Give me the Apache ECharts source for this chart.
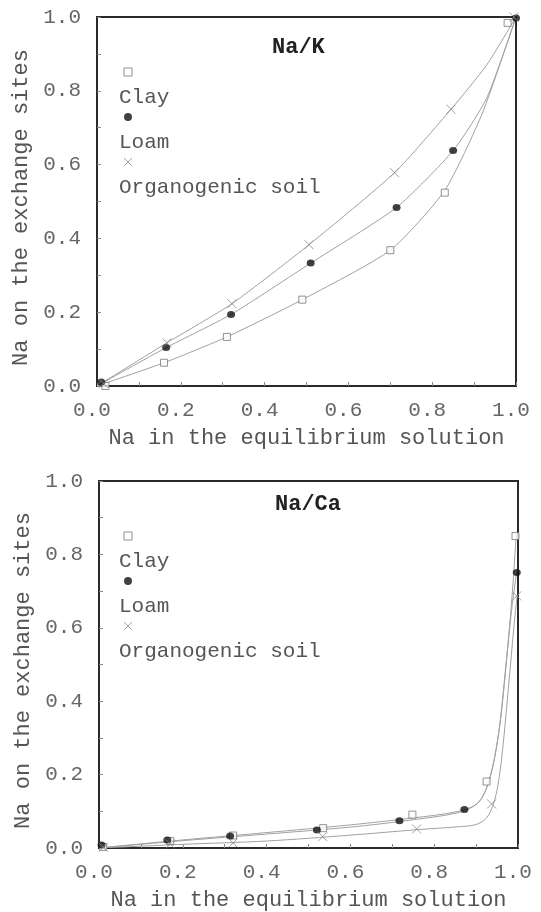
<!DOCTYPE html>
<html>
<head>
<meta charset="utf-8">
<script src="https://cdn.jsdelivr.net/npm/echarts@6/dist/echarts.min.js"></script>
<style>
html,body{margin:0;padding:0;background:#fff;}
#chart{width:541px;height:912px;}
</style>
</head>
<body>
<div id="chart"></div>
<script>
// ---------- tick labels ----------
const tickValues = [0.0, 0.2, 0.4, 0.6, 0.8, 1.0];
const seriesNames = ['Clay', 'Loam', 'Organogenic soil'];
const panelTitles = ['Na/K', 'Na/Ca'];
const xAxisTitle = 'Na in the equilibrium solution';
const yAxisTitle = 'Na on the exchange sites';

// ---------- Na/K : measured points ----------
const kClayX = [0.02, 0.16, 0.31, 0.49, 0.70, 0.83, 0.98];
const kClayY = [0.0, 0.063, 0.133, 0.234, 0.368, 0.524, 0.984];
const kLoamX = [0.01, 0.165, 0.32, 0.51, 0.715, 0.85, 1.0];
const kLoamY = [0.011, 0.104, 0.194, 0.333, 0.484, 0.638, 0.997];
const kOrgX = [0.016, 0.167, 0.322, 0.506, 0.71, 0.845, 0.995];
const kOrgY = [0.007, 0.117, 0.223, 0.383, 0.578, 0.75, 1.0];

// ---------- Na/K : fitted curves ----------
const kClayFitX = [0, 0.16, 0.31, 0.49, 0.70, 0.83, 0.92, 1.0];
const kClayFitY = [0, 0.063, 0.133, 0.234, 0.368, 0.53, 0.74, 1.0];
const kLoamFitX = [0, 0.165, 0.32, 0.51, 0.715, 0.85, 0.93, 1.0];
const kLoamFitY = [0, 0.104, 0.194, 0.333, 0.484, 0.638, 0.78, 1.0];
const kOrgFitX = [0, 0.167, 0.322, 0.506, 0.71, 0.845, 0.93, 1.0];
const kOrgFitY = [0, 0.117, 0.223, 0.383, 0.578, 0.75, 0.87, 1.0];

// ---------- Na/Ca : measured points ----------
const cClayX = [0.01, 0.17, 0.32, 0.535, 0.748, 0.925, 0.994];
const cClayY = [0.003, 0.019, 0.034, 0.054, 0.091, 0.181, 0.85];
const cLoamX = [0.006, 0.163, 0.313, 0.52, 0.717, 0.872, 0.997];
const cLoamY = [0.008, 0.022, 0.033, 0.049, 0.074, 0.105, 0.751];
const cOrgX = [0.01, 0.17, 0.32, 0.534, 0.758, 0.937, 0.997];
const cOrgY = [0.002, 0.011, 0.014, 0.031, 0.052, 0.12, 0.687];

// ---------- Na/Ca : fitted curves ----------
const cClayFitX = [0, 0.2, 0.4, 0.6, 0.75, 0.85, 0.9, 0.92, 0.935, 0.947, 0.959, 0.975, 0.988, 0.996];
const cClayFitY = [0, 0.022, 0.042, 0.063, 0.082, 0.098, 0.118, 0.15, 0.2, 0.265, 0.356, 0.54, 0.72, 0.86];
const cLoamFitX = [0, 0.2, 0.4, 0.6, 0.75, 0.87, 0.91, 0.93, 0.945, 0.958, 0.973, 0.986, 0.998];
const cLoamFitY = [0, 0.02, 0.038, 0.057, 0.077, 0.1, 0.13, 0.18, 0.25, 0.35, 0.52, 0.66, 0.76];
const cOrgFitX = [0, 0.2, 0.4, 0.6, 0.76, 0.86, 0.9, 0.925, 0.94, 0.952, 0.963, 0.978, 0.99, 0.998];
const cOrgFitY = [0, 0.01, 0.019, 0.035, 0.05, 0.058, 0.064, 0.082, 0.115, 0.17, 0.265, 0.447, 0.6, 0.69];

const zip = (xs, ys) => xs.map((x, i) => [x, ys[i]]);

const FONT = 'Liberation Mono';
const TXT = '#555';
const FRAME = '#2a2a2a';
const CURVE = '#a0a0a0';
const CROSS = 'path://M0,0L10,10M0,10L10,0';

const styles = {
  'Clay': { symbol: 'rect', symbolSize: 7, itemStyle: { color: '#fff', borderColor: '#777', borderWidth: 1 } },
  'Loam': { symbol: 'circle', symbolSize: [8, 7], itemStyle: { color: '#111', borderColor: '#111', borderWidth: 0 } },
  'Organogenic soil': { symbol: CROSS, symbolSize: 9, itemStyle: { color: 'none', borderColor: '#888', borderWidth: 1 } }
};

function grids() {
  return [
    { left: 97, top: 17, width: 419, height: 369, show: true, borderColor: FRAME, borderWidth: 2, backgroundColor: 'transparent' },
    { left: 99, top: 481, width: 419, height: 367, show: true, borderColor: FRAME, borderWidth: 2, backgroundColor: 'transparent' }
  ];
}

const labelFmt = v => { const t = tickValues.find(a => Math.abs(a - v) < 1e-6); return t === undefined ? '' : t.toFixed(1); };

function xAxis(i) {
  return {
    type: 'value', gridIndex: i, min: 0, max: 1, interval: 0.2,
    name: xAxisTitle, nameLocation: 'middle', nameGap: 41,
    nameTextStyle: { fontFamily: FONT, fontSize: 22, color: TXT },
    axisLine: { show: true, lineStyle: { color: FRAME, width: 2 } },
    axisTick: { show: true, inside: true, length: 4, lineStyle: { color: '#888' } },
    minorTick: { show: true, splitNumber: 2, length: 4, lineStyle: { color: '#888' } },
    splitLine: { show: false },
    axisLabel: { fontFamily: FONT, fontSize: 21, color: '#666', margin: 14, padding: [0, 10, 0, 0], formatter: labelFmt }
  };
}
function yAxis(i) {
  return {
    type: 'value', gridIndex: i, min: 0, max: 1, interval: 0.2,
    name: yAxisTitle, nameLocation: 'middle', nameGap: 60, nameRotate: 90,
    nameTextStyle: { fontFamily: FONT, fontSize: 22, color: TXT, padding: [0, 12, 0, 0] },
    axisLine: { show: true, lineStyle: { color: FRAME, width: 2 } },
    axisTick: { show: true, inside: true, length: 4, lineStyle: { color: '#888' } },
    minorTick: { show: true, splitNumber: 2, length: 4, lineStyle: { color: '#888' } },
    splitLine: { show: false },
    axisLabel: { fontFamily: FONT, fontSize: 21, color: '#666', margin: 16, formatter: labelFmt }
  };
}

function curve(name, i, xs, ys, sm) {
  return {
    name: name + ' fit', type: 'line', xAxisIndex: i, yAxisIndex: i,
    data: zip(xs, ys), showSymbol: false, smooth: sm,
    lineStyle: { color: CURVE, width: 1 }, silent: true, z: 2
  };
}
function points(name, i, xs, ys) {
  const s = styles[name];
  return {
    name: name, type: 'scatter', xAxisIndex: i, yAxisIndex: i,
    data: zip(xs, ys), symbol: s.symbol, symbolSize: s.symbolSize,
    itemStyle: s.itemStyle, z: 5
  };
}

function legend(top, left) {
  return {
    orient: 'vertical', left: left, top: top, padding: 0,
    itemWidth: 8, itemHeight: 8, itemGap: -55, itemTextGap: 5,
    data: seriesNames.map(n => ({ name: n, icon: styles[n].symbol, itemStyle: styles[n].itemStyle })),
    formatter: n => '\n' + n,
    textStyle: { fontFamily: FONT, fontSize: 21, color: TXT, lineHeight: 50, padding: [0, 0, 0, -18] },
    selectedMode: false
  };
}

const chart = echarts.init(document.getElementById('chart'), null, { renderer: 'canvas' });
chart.setOption({
  animation: false,
  backgroundColor: '#fff',
  title: [
    { text: panelTitles[0], left: 272, top: 36, padding: 0, textStyle: { fontFamily: FONT, fontSize: 22, fontWeight: 'bold', color: '#222' } },
    { text: panelTitles[1], left: 275, top: 493, padding: 0, textStyle: { fontFamily: FONT, fontSize: 22, fontWeight: 'bold', color: '#222' } }
  ],
  legend: [legend(22, 119), legend(486, 119)],
  grid: grids(),
  xAxis: [xAxis(0), xAxis(1)],
  yAxis: [yAxis(0), yAxis(1)],
  series: [
    curve('Clay', 0, kClayFitX, kClayFitY, 0.2),
    curve('Loam', 0, kLoamFitX, kLoamFitY, 0.2),
    curve('Organogenic soil', 0, kOrgFitX, kOrgFitY, 0.2),
    points('Clay', 0, kClayX, kClayY),
    points('Loam', 0, kLoamX, kLoamY),
    points('Organogenic soil', 0, kOrgX, kOrgY),
    curve('Clay', 1, cClayFitX, cClayFitY, 0.3),
    curve('Loam', 1, cLoamFitX, cLoamFitY, 0.3),
    curve('Organogenic soil', 1, cOrgFitX, cOrgFitY, 0.3),
    points('Clay', 1, cClayX, cClayY),
    points('Loam', 1, cLoamX, cLoamY),
    points('Organogenic soil', 1, cOrgX, cOrgY)
  ]
});
</script>
</body>
</html>
